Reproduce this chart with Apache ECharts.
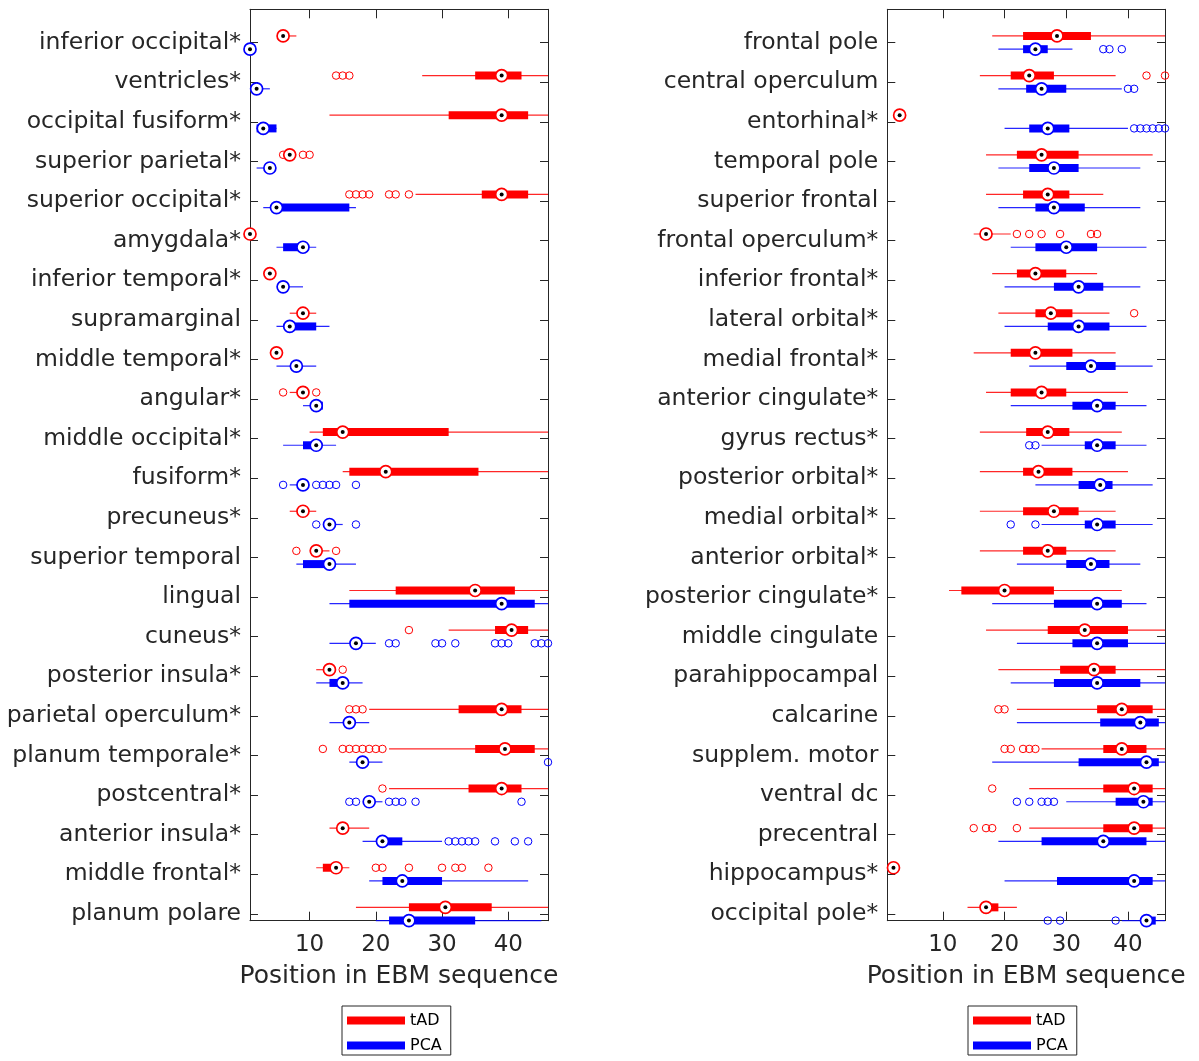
<!DOCTYPE html>
<html><head><meta charset="utf-8">
<script src="https://cdn.jsdelivr.net/npm/echarts@6/dist/echarts.min.js"></script>
<style>html,body{margin:0;padding:0;background:#fff}#c{width:1199px;height:1061px}</style>
</head><body><div id="c"></div>
<script>
// ---------------- DATA ----------------
const leftCategories = ["inferior occipital*","ventricles*","occipital fusiform*","superior parietal*","superior occipital*","amygdala*","inferior temporal*","supramarginal","middle temporal*","angular*","middle occipital*","fusiform*","precuneus*","superior temporal","lingual","cuneus*","posterior insula*","parietal operculum*","planum temporale*","postcentral*","anterior insula*","middle frontal*","planum polare"];
const rightCategories = ["frontal pole","central operculum","entorhinal*","temporal pole","superior frontal","frontal operculum*","inferior frontal*","lateral orbital*","medial frontal*","anterior cingulate*","gyrus rectus*","posterior orbital*","medial orbital*","anterior orbital*","posterior cingulate*","middle cingulate","parahippocampal","calcarine","supplem. motor","ventral dc","precentral","hippocampus*","occipital pole*"];
const xTickValues = [10, 20, 30, 40];

// [lower whisker, Q1, median, Q3, upper whisker]
const leftTAD = [[6,6,6,6,8],[27,35,39,42,46],[13,31,39,43,46],[7,7,7,7,7],[26,36,39,43,46],[1,1,1,1,1],[4,4,4,4,4],[7,9,9,9,11],[5,5,5,5,5],[7,9,9,9,9],[10,12,15,31,46],[15,16,21.5,35.5,46],[7,9,9,9,11],[11,11,11,11,13],[16,23,35,41,46],[31,38,40.5,43,46],[11,13,13,13,13],[19,32.5,39,42,46],[22,35,39.5,44,46],[22,34,39,42,46],[13,15,15,15,19],[11,12,14,14,16],[17,25,30.5,37.5,46]];
const leftPCA = [[1,1,1,1,1],[2,2,2,2,4],[2,2,3,5,5],[2,4,4,4,4],[3,5,5,16,17],[5,6,9,9,11],[6,6,6,6,9],[5,7,7,11,13],[5,8,8,8,11],[9,11,11,12,12],[6,9,11,11,14],[7,9,9,9,9],[13,13,13,13,15],[8,9,13,13,17],[13,16,39,44,46],[13,17,17,17,20],[11,13,15,15,18],[13,16,16,16,19],[16,18,18,18,21],[19,19,19,19,21],[18,21,21,24,30],[19,21,24,30,43],[20,22,25,35,45]];
const rightTAD = [[18,23,28.5,34,46],[16,21,24,28,38],[3,3,3,3,3],[17,22,26,32,44],[17,23,27,30.5,36],[15,17,17,17,21],[18,22,25,30,35],[19,25,27.5,31,37],[15,21,25,31,38],[17,21,26,30,40],[16,23.5,27,30.5,39],[16,23,25.5,31,40],[16,23,28,32,38],[16,23,27,30,38],[11,13,20,28,39],[17,27,33,40,46],[19,29,34.5,38,46],[22,35,39,44,46],[26,36,39,43,46],[24,36,41,44,46],[24,36,41,44,46],[2,2,2,2,2],[14,17,17,19,22]];
const rightPCA = [[19,23,25,27,31],[19,23.5,26,30,39],[20,24,27,30.5,40],[19,24,28,32,42],[19,25,28,33,42],[21,25,30,35,43],[20,28,32,36,42],[20,27,32,37,43],[24,30,34,38,44],[21,31,35,38,43],[26,33,35,38,43],[25,32,35.5,37.5,44],[26,33,35,38,44],[22,30,34,37,42],[18,28,35,39,43],[22,31,35,40,46],[21,28,35,42,46],[22,35.5,42,45,46],[18,32,43,45,46],[30,38,42.5,44,46],[19,26,36,43,46],[20,28.5,41,44,46],[39,42.5,43,44.5,46]];

// outliers per category (same order as categories)
const leftTADOutliers = [[],[14,15,16],[],[6,9,10],[16,17,18,19,22,23,25],[],[],[],[],[6,11],[],[],[],[8,14],[],[25],[15],[16,17,18],[12,15,16,17,18,19,20,21],[21],[],[20,21,25,30,32,33,37],[]];
const leftPCAOutliers = [[],[],[],[],[],[],[],[],[],[],[],[6,11,12,13,14,17],[11,17],[],[],[22,23,29,30,32,38,39,40,44,45,46],[],[],[46],[16,17,22,23,24,26,42],[31,32,33,34,35,38,41,43],[],[]];
const rightTADOutliers = [[],[43,46],[],[],[],[22,24,26,29,34,35],[],[41],[],[],[],[],[],[],[],[],[],[19,20],[20,21,23,24,25],[18],[15,17,18,22],[],[]];
const rightPCAOutliers = [[36,37,39],[40,41],[41,42,43,44,45,46],[],[],[],[],[],[],[],[24,25],[],[21,25],[],[],[],[],[],[],[22,24,26,27,28],[],[],[27,29,38]];

// ---------------- BUILD ----------------
const FONT = 'DejaVu Sans';
const AX = '#262626';
const RED = '#ff0000', BLUE = '#0000ff';
const X_MIN = 1, X_MAX = 46, Y_MIN = 0.16, Y_MAX = 23.17, OFF = 0.167;
const catPositions = leftCategories.map((_, i) => i + 1);

function boxSeries(stats, g, name, color, off) {
  return {
    type: 'custom', name, xAxisIndex: g * 2, yAxisIndex: g * 2, silent: true, z: 2,
    itemStyle: { color },
    data: stats.map((s, i) => [i + 1 + off].concat(s)),
    encode: { x: [1, 2, 3, 4, 5], y: 0 },
    renderItem: (params, api) => {
      const y = api.value(0);
      const lo = api.coord([api.value(1), y]);
      const q1 = api.coord([api.value(2), y]);
      const q3 = api.coord([api.value(4), y]);
      const hi = api.coord([api.value(5), y]);
      const ch = [];
      if (hi[0] > lo[0]) ch.push({ type: 'line', shape: { x1: lo[0], y1: lo[1], x2: hi[0], y2: hi[1] }, style: { stroke: color, lineWidth: 1.2, opacity: 0.85 } });
      if (q3[0] > q1[0]) ch.push({ type: 'rect', shape: { x: q1[0], y: q1[1] - 4, width: q3[0] - q1[0], height: 8 }, style: { fill: color } });
      return { type: 'group', children: ch };
    }
  };
}
function medianSeries(stats, g, color, off) {
  const data = stats.map((s, i) => [s[2], i + 1 + off]);
  return [
    { type: 'scatter', xAxisIndex: g * 2, yAxisIndex: g * 2, silent: true, z: 4, clip: false, data,
      symbol: 'circle', symbolSize: 12, itemStyle: { color: '#fff', borderColor: color, borderWidth: 1.7, opacity: 1 } },
    { type: 'scatter', xAxisIndex: g * 2, yAxisIndex: g * 2, silent: true, z: 5, clip: false, data,
      symbol: 'circle', symbolSize: 4, itemStyle: { color: '#000', opacity: 1 } }
  ];
}
function outlierSeries(outs, g, color, off) {
  const data = [];
  outs.forEach((arr, i) => arr.forEach(v => data.push([v, i + 1 + off])));
  return { type: 'scatter', xAxisIndex: g * 2, yAxisIndex: g * 2, silent: true, z: 3, clip: false, data,
    symbol: 'circle', symbolSize: 7.5, itemStyle: { color: 'rgba(0,0,0,0)', borderColor: color, borderWidth: 1, opacity: 1 } };
}

const grids = [
  { left: 250, top: 9.3, width: 298, height: 911.4 },
  { left: 887.3, top: 9.3, width: 277.7, height: 911.4 }
];
const xAxes = [], yAxes = [];
[leftCategories, rightCategories].forEach((cats, g) => {
  xAxes.push({ type: 'value', gridIndex: g, position: 'bottom', min: X_MIN, max: X_MAX,
    name: 'Position in EBM sequence', nameLocation: 'middle', nameGap: 43,
    nameTextStyle: { fontFamily: FONT, fontSize: 25, color: AX },
    axisLine: { show: true, lineStyle: { color: AX, width: 1 } },
    axisTick: { show: true, inside: true, length: 9, customValues: xTickValues, lineStyle: { color: AX } },
    axisLabel: { show: true, customValues: xTickValues, margin: 13, fontFamily: FONT, fontSize: 23, color: AX },
    splitLine: { show: false } });
  xAxes.push({ type: 'value', gridIndex: g, position: 'top', min: X_MIN, max: X_MAX,
    axisLine: { show: true, lineStyle: { color: AX, width: 1 } },
    axisTick: { show: true, inside: true, length: 9, customValues: xTickValues, lineStyle: { color: AX } },
    axisLabel: { show: false }, splitLine: { show: false } });
  yAxes.push({ type: 'value', gridIndex: g, position: 'left', inverse: true, min: Y_MIN, max: Y_MAX,
    axisLine: { show: true, lineStyle: { color: AX, width: 1 } },
    axisTick: { show: true, inside: true, length: 8, customValues: catPositions, lineStyle: { color: AX } },
    axisLabel: { show: true, customValues: catPositions, margin: 9, fontFamily: FONT, fontSize: 23.5, color: AX,
      padding: [4, 0, 0, 0], formatter: v => cats[Math.round(v) - 1] || '' },
    splitLine: { show: false } });
  yAxes.push({ type: 'value', gridIndex: g, position: 'right', inverse: true, min: Y_MIN, max: Y_MAX,
    axisLine: { show: true, lineStyle: { color: AX, width: 1 } },
    axisTick: { show: true, inside: true, length: 8, customValues: catPositions, lineStyle: { color: AX } },
    axisLabel: { show: false }, splitLine: { show: false } });
});

const series = [
  boxSeries(leftTAD, 0, 'tAD', RED, -OFF), boxSeries(leftPCA, 0, 'PCA', BLUE, OFF),
  boxSeries(rightTAD, 1, 'tAD', RED, -OFF), boxSeries(rightPCA, 1, 'PCA', BLUE, OFF),
  outlierSeries(leftTADOutliers, 0, RED, -OFF), outlierSeries(leftPCAOutliers, 0, BLUE, OFF),
  outlierSeries(rightTADOutliers, 1, RED, -OFF), outlierSeries(rightPCAOutliers, 1, BLUE, OFF),
  ...medianSeries(leftTAD, 0, RED, -OFF), ...medianSeries(leftPCA, 0, BLUE, OFF),
  ...medianSeries(rightTAD, 1, RED, -OFF), ...medianSeries(rightPCA, 1, BLUE, OFF)
];

function legendAt(left) {
  return { data: ['tAD', 'PCA'], left, top: 1006, orient: 'vertical', icon: 'rect',
    itemWidth: 58, itemHeight: 8, itemGap: 8, padding: [6, 9, 1, 5], selectedMode: false,
    borderColor: AX, borderWidth: 1, backgroundColor: '#fff',
    textStyle: { fontFamily: FONT, fontSize: 16, color: '#000', lineHeight: 17 } };
}

const chart = echarts.init(document.getElementById('c'), null, { renderer: 'canvas' });
chart.setOption({
  animation: false,
  backgroundColor: '#fff',
  grid: grids,
  xAxis: xAxes,
  yAxis: yAxes,
  legend: [legendAt(342), legendAt(968)],
  series
});
</script></body></html>
